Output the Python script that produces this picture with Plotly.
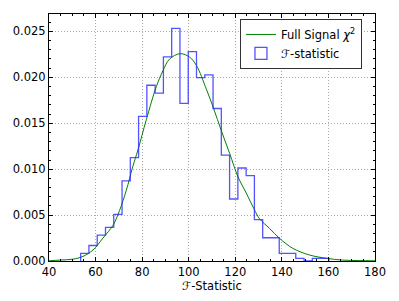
import plotly.graph_objects as go

# Histogram bin edges (F-statistic) and normalised heights
bin_edges = [53.60, 57.15, 60.71, 64.26, 67.81, 71.37, 74.92, 78.47, 82.02, 85.58,
             89.13, 92.68, 96.24, 99.79, 103.34, 106.90, 110.45, 114.00, 117.55, 121.11,
             124.66, 128.21, 131.77, 135.32, 138.87, 142.42, 145.98, 149.53, 153.08, 156.64,
             160.19]
hist_density = [0.00084, 0.00169, 0.00281, 0.00366, 0.00507, 0.00872, 0.01126, 0.01576,
                0.01914, 0.01829, 0.02223, 0.02533, 0.01717, 0.02280, 0.01998, 0.02026,
                0.01661, 0.01154, 0.00675, 0.01013, 0.00929, 0.00450, 0.00253, 0.00253,
                0.00084, 0.00084, 0.00028, 0.0, 0.00028, 0.00028]

# Full-signal chi^2 curve
curve_x = [40, 44.6, 50.3, 54.6, 58.9, 63.2, 67.5, 70.3, 73.2, 76.0, 78.2, 81.8, 86.1,
           88.9, 91.8, 96.4, 100.4, 103.3, 107.6, 110.7, 114.0, 117.6, 121.1, 124.7,
           128.0, 130.4, 134.7, 139.0, 144.7, 151.9, 159.1, 166, 173, 180]
curve_y = [0.00002, 0.0001, 0.0002, 0.0005, 0.0012, 0.0025, 0.0039, 0.0055, 0.0077,
           0.0103, 0.0121, 0.0154, 0.0190, 0.0207, 0.0220, 0.02258, 0.0222, 0.0213,
           0.0187, 0.0166, 0.0142, 0.0117, 0.0092, 0.0074, 0.0057, 0.0046, 0.00355,
           0.00247, 0.00138, 0.00065, 0.0003, 0.0001, 0.00005, 0.00002]

x_ticks = [40, 60, 80, 100, 120, 140, 160, 180]
y_ticks = [0.000, 0.005, 0.010, 0.015, 0.020, 0.025]

FONT = "DejaVu Sans"
HIST_COLOR = "rgba(40,40,255,0.8)"

fig = go.Figure()

fig.add_trace(go.Scatter(
    x=curve_x, y=curve_y, mode="lines", line=dict(color="#008000", width=1, shape="spline"),
    name="Full Signal <i>χ</i><sup>2</sup>", showlegend=True,
))

# step outline of histogram
step_x = [bin_edges[0]] + bin_edges
step_y = [0] + hist_density + [0]
fig.add_trace(go.Scatter(
    x=step_x, y=step_y, mode="lines", line=dict(color=HIST_COLOR, width=1.3, shape="hv"),
    showlegend=False, hoverinfo="skip",
))
# legend entry (rectangle patch)
fig.add_trace(go.Bar(
    x=[None], y=[None], name="ℱ-statistic",
    marker=dict(color="rgba(0,0,0,0)", line=dict(color=HIST_COLOR, width=1.3)),
    showlegend=True,
))

axis_common = dict(
    showline=True, linecolor="black", linewidth=1, mirror="allticks",
    ticks="inside", tickcolor="black", ticklen=4,
    showgrid=True, gridcolor="#a8a8a8", griddash="1px,2px", gridwidth=1,
    zeroline=False, tickfont=dict(family=FONT, size=11.5, color="black"),
    automargin=False,
)

fig.update_xaxes(
    range=[40, 180], tickvals=x_ticks, ticktext=[str(v) for v in x_ticks],
    minor=dict(dtick=5, ticks="inside", ticklen=2, tickcolor="black", showgrid=False),
    title=dict(text="ℱ-Statistic", font=dict(family=FONT, size=11.5, color="black"), standoff=2),
    **axis_common,
)
fig.update_yaxes(
    range=[0, 0.0269], tickvals=y_ticks, ticktext=[f"{v:.3f}" for v in y_ticks],
    minor=dict(dtick=0.001, ticks="inside", ticklen=2, tickcolor="black", showgrid=False),
    **axis_common,
)

# page body has an 8px default margin, so the margins are offset to compensate
fig.update_layout(
    width=399, height=301,
    margin=dict(l=41, r=32, t=6, b=48, autoexpand=False),
    paper_bgcolor="white", plot_bgcolor="white",
    font=dict(family=FONT, size=11.5, color="black"),
    legend=dict(
        x=0.96, y=0.98, xanchor="right", yanchor="top",
        bgcolor="white", bordercolor="#333333", borderwidth=1,
        font=dict(family=FONT, size=11.5, color="black"),
        tracegroupgap=0, itemwidth=30,
    ),
    showlegend=True,
)

fig.write_html("out.html")
